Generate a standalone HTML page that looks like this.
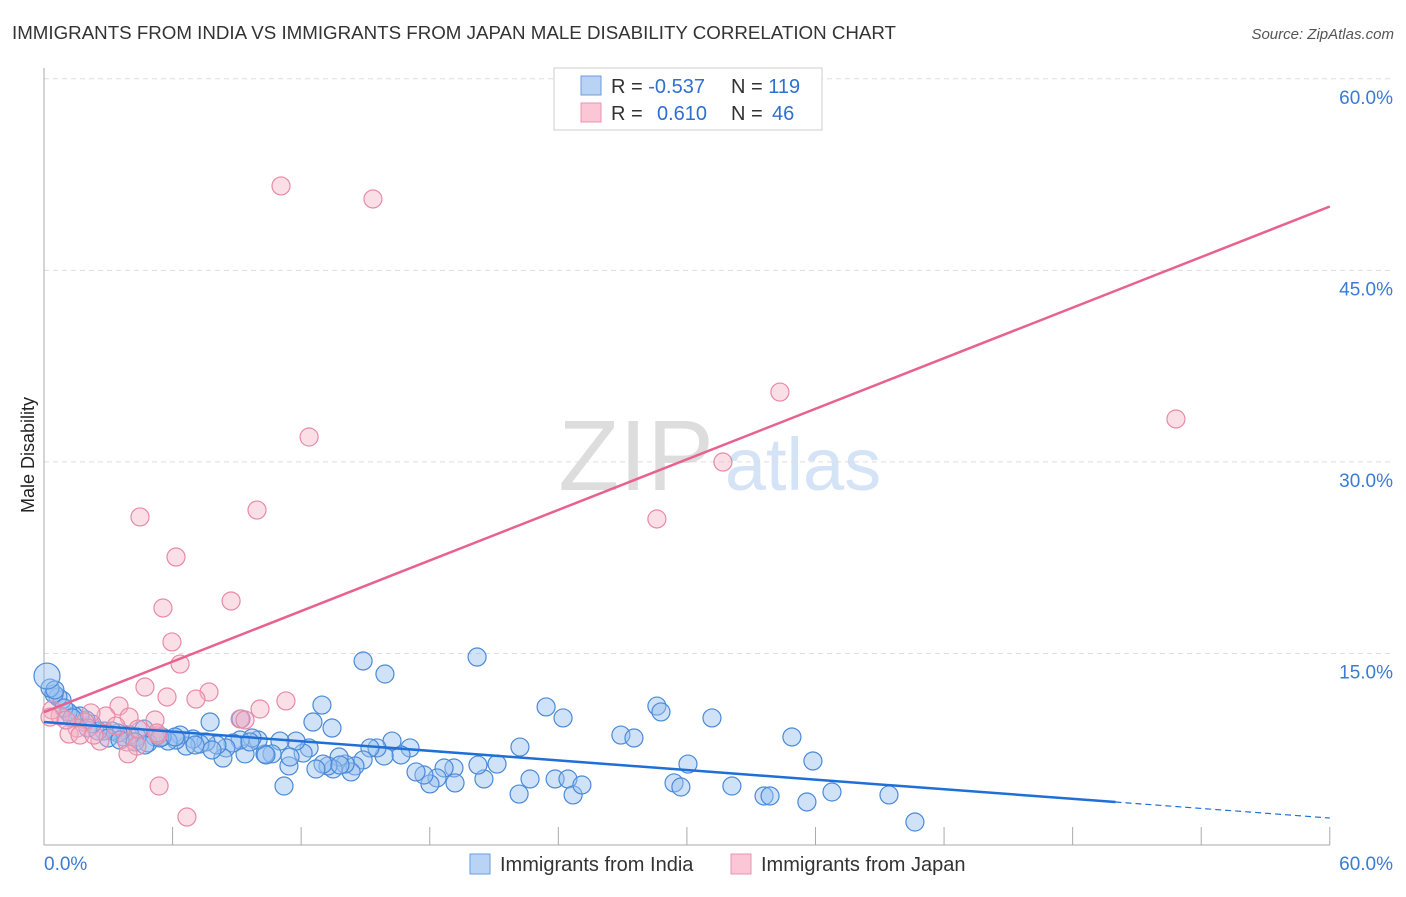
<!DOCTYPE html>
<html><head><meta charset="utf-8"><style>
body{margin:0;background:#fff;font-family:"Liberation Sans",sans-serif;}
svg text{font-family:"Liberation Sans",sans-serif;}
</style></head><body>
<svg id="c" width="1406" height="892" xmlns="http://www.w3.org/2000/svg">
<text x="12" y="39" font-size="18" fill="#333" textLength="884" lengthAdjust="spacingAndGlyphs">IMMIGRANTS FROM INDIA VS IMMIGRANTS FROM JAPAN MALE DISABILITY CORRELATION CHART</text>
<text x="1394" y="39" font-size="15" fill="#555" font-style="italic" text-anchor="end">Source: ZipAtlas.com</text>
<text transform="translate(34,455) rotate(-90)" font-size="18" fill="#222" text-anchor="middle">Male Disability</text>
<g><text x="636" y="490" font-size="100" fill="#ddd" font-family="Liberation Serif" text-anchor="middle">ZIP</text><text x="803" y="490" font-size="74" fill="#d4e3f5" text-anchor="middle">atlas</text></g>
<g id="grid"></g><g id="marks"></g><g id="trend"></g>
<g>
<rect x="554" y="68" width="268" height="62" fill="#fff" stroke="#ccc"/>
<rect x="581" y="76" width="20" height="19" fill="#b9d3f5" stroke="#6a9ee0"/>
<rect x="581" y="103" width="20" height="19" fill="#fbc7d6" stroke="#eb93ae"/>
<text x="611" y="93" font-size="20" fill="#333">R = <tspan fill="#2f6fd0">-0.537</tspan><tspan x="731">N = </tspan><tspan fill="#2f6fd0">119</tspan></text>
<text x="611" y="120" font-size="20" fill="#333">R = <tspan x="657" fill="#2f6fd0">0.610</tspan><tspan x="731">N = </tspan><tspan x="772" fill="#2f6fd0">46</tspan></text>
</g>
<g>
<rect x="470" y="854" width="20" height="20" fill="#b9d3f5" stroke="#6a9ee0"/>
<text x="500" y="871" font-size="20" fill="#333">Immigrants from India</text>
<rect x="731" y="854" width="20" height="20" fill="#fbc7d6" stroke="#eb93ae"/>
<text x="761" y="871" font-size="20" fill="#333">Immigrants from Japan</text>
</g>
</svg>
<script>
const yTicks=[15,30,45,60];
const yTickLabels=["15.0%","30.0%","45.0%","60.0%"];
const xLabels=["0.0%","60.0%"];
const indiaPx=[[363,661],[477,657],[385,674],[210,722],[322,705],[313,722],[332,728],[241,719],[546,707],[563,718],[657,706],[661,712],[712,718],[621,735],[634,738],[792,737],[813,761],[688,764],[674,783],[681,787],[732,786],[764,796],[770,796],[807,802],[832,792],[889,795],[915,822],[520,747],[530,779],[555,779],[568,779],[573,795],[582,785],[519,794],[497,764],[484,779],[478,765],[454,768],[455,783],[444,768],[437,778],[430,784],[424,775],[416,772],[410,748],[401,755],[392,741],[384,756],[377,748],[370,748],[363,760],[355,766],[351,772],[345,764],[339,757],[333,769],[328,766],[323,764],[316,769],[309,748],[303,753],[296,741],[289,766],[284,786],[280,741],[272,754],[265,754],[258,740],[252,738],[245,754],[240,740],[233,743],[226,748],[223,758],[217,745],[206,742],[200,744],[193,739],[186,746],[180,735],[176,740],[168,741],[162,737],[155,737],[148,743],[144,729],[137,737],[130,735],[124,737],[118,733],[112,731],[104,731],[98,731],[92,724],[86,720],[80,716],[74,716],[68,712],[62,700],[58,697],[54,694],[50,688],[55,690],[64,708],[72,718],[88,728],[108,738],[120,740],[135,742],[145,745],[160,738],[175,737],[195,745],[212,750],[250,742],[266,755],[290,757],[340,765],[47,676]];
const japanPx=[[281,186],[373,199],[309,437],[780,392],[1176,419],[723,462],[657,519],[140,517],[257,510],[176,557],[163,608],[231,601],[172,642],[180,664],[145,687],[209,692],[196,699],[167,697],[286,701],[260,709],[240,719],[119,706],[129,717],[106,716],[91,713],[85,722],[77,728],[69,734],[60,716],[52,710],[50,717],[66,720],[80,735],[100,741],[116,726],[127,742],[137,746],[158,735],[155,720],[138,729],[94,735],[128,754],[159,786],[187,817],[245,720],[157,733]];
const indiaX=indiaPx.map(p=>+((p[0]-44)/21.43).toFixed(2));
const indiaY=indiaPx.map(p=>+((845-p[1])/12.77).toFixed(2));
const japanX=japanPx.map(p=>+((p[0]-44)/21.43).toFixed(2));
const japanY=japanPx.map(p=>+((845-p[1])/12.77).toFixed(2));
const indiaTrend=[9.63,-0.1253];
const japanTrend=[10.4,0.66];
const X=v=>44+v*21.43, Y=v=>845-v*12.77;
const NS="http://www.w3.org/2000/svg";
function mk(t,a,p){const e=document.createElementNS(NS,t);for(const k in a)e.setAttribute(k,a[k]);p.appendChild(e);return e;}
const grid=document.getElementById('grid');
yTicks.forEach((v,i)=>{
 const l=mk('line',{x1:44,x2:1394,y1:Y(v),y2:Y(v),stroke:'#ddd','stroke-dasharray':'5,4'},grid);
 
 
 const t=mk('text',{x:1393,y:Y(v)+25,'font-size':19,fill:'#3a7bd5','text-anchor':'end'},grid);t.textContent=yTickLabels[i];
 
 
});
mk('line',{x1:44,x2:44,y1:68,y2:845,stroke:'#aaa'},grid);
mk('line',{x1:44,x2:1330,y1:845,y2:845,stroke:'#aaa'},grid);
for(let i=1;i<=10;i++){mk('line',{x1:X(i*6),x2:X(i*6),y1:827,y2:845,stroke:'#aaa'},grid);}
const t0=mk('text',{x:44,y:870,'font-size':19,fill:'#3a7bd5'},grid);t0.textContent=xLabels[0];


const t1=mk('text',{x:1393,y:870,'font-size':19,fill:'#3a7bd5','text-anchor':'end'},grid);t1.textContent=xLabels[1];


const marks=document.getElementById('marks');
indiaX.forEach((x,i)=>{const c=mk('circle',{cx:X(x),cy:Y(indiaY[i]),r:i==indiaX.length-1?13:9,fill:'rgba(150,190,240,0.45)',stroke:'#4a8ad8','stroke-width':1.2},marks);
 
 });
japanX.forEach((x,i)=>{const c=mk('circle',{cx:X(x),cy:Y(japanY[i]),r:9,fill:'rgba(246,175,195,0.4)',stroke:'#e88aa6','stroke-width':1.2},marks);
 
 });
const tr=document.getElementById('trend');
const f=(t,x)=>t[0]+t[1]*x;
const b1=mk('line',{x1:X(0),y1:Y(f(indiaTrend,0)),x2:X(50),y2:Y(f(indiaTrend,50)),stroke:'#1f6fd6','stroke-width':2.5},tr);


const b2=mk('line',{x1:X(50),y1:Y(f(indiaTrend,50)),x2:X(60),y2:Y(f(indiaTrend,60)),stroke:'#1f6fd6','stroke-width':1.2,'stroke-dasharray':'6,4'},tr);


const p1=mk('line',{x1:X(0),y1:Y(f(japanTrend,0)),x2:X(60),y2:Y(f(japanTrend,60)),stroke:'#e8628f','stroke-width':2.5},tr);


</script>
</body></html>
